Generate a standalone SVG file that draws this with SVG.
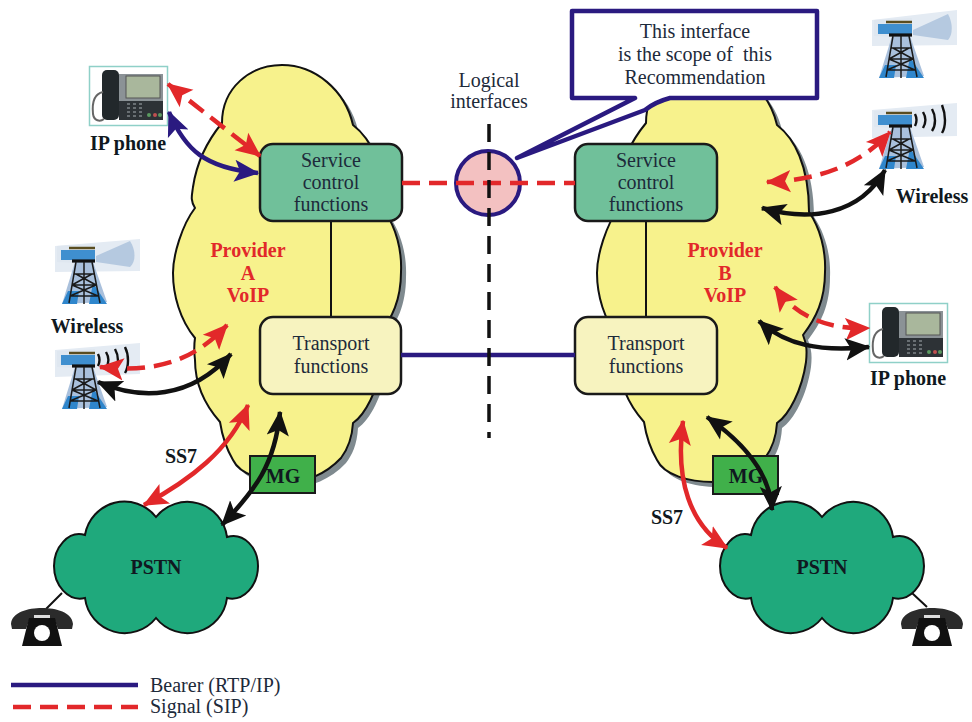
<svg xmlns="http://www.w3.org/2000/svg" width="972" height="722" viewBox="0 0 972 722">
<style>
text{font-family:"Liberation Serif","Times New Roman",serif;font-size:20px;fill:#1d2a3a;text-anchor:middle}
.b{font-weight:bold;fill:#101820}
.r{font-weight:bold;fill:#e2282a}
.l{text-anchor:start}
.cloud{fill:#f7f28c;stroke:#111;stroke-width:2}
.shadow{fill:#7f8a8f}
.pstn{fill:#1fa97c;stroke:#111;stroke-width:2}
.svc{fill:#70c09a;stroke:#1a1a1a;stroke-width:2.5}
.trn{fill:#f7f3bf;stroke:#1a1a1a;stroke-width:2.5}
.mg{fill:#40b04a;stroke:#1a1a1a;stroke-width:2}
.c{fill:none}
.red{stroke:#e2282a;stroke-width:4.5}
.dash{stroke-dasharray:18 9}
.nav{stroke:#2a1a80;stroke-width:4.5}
.blk{stroke:#111;stroke-width:4.5}
.link{stroke:#111;stroke-width:2;fill:none}
.wave{fill:none;stroke:#111;stroke-width:2.4}
.beam{fill:#b5c9e0}
.pale{fill:#e4ebf3}
</style>
<defs>
<marker id="hr" markerUnits="userSpaceOnUse" markerWidth="25" markerHeight="25" refX="17" refY="9" orient="auto-start-reverse" viewBox="0 0 18 18"><path d="M0,1L18,9L0,17L4,9Z" fill="#e2282a"/></marker>
<marker id="hk" markerUnits="userSpaceOnUse" markerWidth="25" markerHeight="25" refX="17" refY="9" orient="auto-start-reverse" viewBox="0 0 18 18"><path d="M0,1L18,9L0,17L4,9Z" fill="#111"/></marker>
<marker id="hn" markerUnits="userSpaceOnUse" markerWidth="25" markerHeight="25" refX="17" refY="9" orient="auto-start-reverse" viewBox="0 0 18 18"><path d="M0,1L18,9L0,17L4,9Z" fill="#2a1a80"/></marker>
<path id="cl" d="M222,123C222,88 250,65 282,65C315,65 345,90 353,125C370,138 385,165 385,212C396,228 402,250 401,272C401,300 392,318 379,335C383,345 383,352 382,362C378,390 365,415 353,423C352,440 347,450 341,458C325,475 305,482 289,482C265,482 240,475 233,460C226,448 222,435 220,422C205,405 195,385 195,360C194,352 194,345 195,338C180,320 173,295 173,273C173,255 182,225 195,208C190,200 192,195 193,187C197,160 208,140 222,123Z"/>
<path id="ps" class="pstn" d="M156,517A40,40 0 0 0 85,535C68,530 54,548 54,566C54,585 68,602 85,598A40,40 0 0 0 156,618A40,40 0 0 0 227,598C244,602 258,585 258,566C258,548 244,532 227,537A40,40 0 0 0 156,517Z"/>
<g id="tw">
<path d="M2,8L40,6L40,26L2,24Z" fill="#dfe7f0"/>
<path d="M20,24L7,66L52,64L38,24Z" fill="#a9c0dc"/>
<path d="M6,12H40V22H6Z" fill="#3f8fcf"/>
<path d="M13,53L7,66H22L24,53ZM38,45L34,66H52L48,60Z" fill="#2f86cc"/>
<path d="M14,10H40" stroke="#5a4d20" stroke-width="2.5" fill="none"/>
<path d="M17,23H40" stroke="#111" stroke-width="3.2" fill="none"/>
<path d="M21,24L14,65M37,24L45,65M29,24V66M19,36H39M17,47H41M15,58H43M21,36L41,47M37,36L17,47M17,47L43,58M41,47L15,58" stroke="#1a1a1a" stroke-width="1.5" fill="none"/>
</g>
<g id="ph">
<rect x="0.5" y="0.5" width="78" height="59" fill="#fff" stroke="#8fd0c8" stroke-width="1.5"/>
<path d="M30,8H74V52H30Z" fill="#8b9296"/>
<rect x="37" y="10" width="34" height="22" fill="#a9b79c" stroke="#555"/>
<path d="M30,35H74V54H30Z" fill="#2d3236"/>
<path d="M38,38h3m3,0h3m3,0h3M38,42h3m3,0h3m3,0h3M38,46h3m3,0h3m3,0h3M38,50h3m3,0h3m3,0h3" stroke="#7d8488" stroke-width="1.6" fill="none"/>
<rect x="13" y="4" width="17" height="50" rx="5" fill="#22282b"/>
<path d="M14,26C4,28 3,38 4,48C5,55 11,56 15,53" fill="none" stroke="#666" stroke-width="2"/>
<circle cx="60" cy="49" r="2" fill="#5a9a60"/><circle cx="66" cy="49" r="2" fill="#c05050"/><circle cx="71" cy="49" r="2" fill="#5a9a60"/>
</g>
<g id="te">
<path d="M1,16C2,4 18,0 32,0C46,0 62,4 63,16L62,21H48L44,10H20L16,21H2Z" fill="#2b2b2b"/>
<path d="M19,10H45L52,38H12Z" fill="#111"/>
<rect x="24" y="7" width="16" height="3" fill="#ddd"/>
<circle cx="32" cy="25" r="8" fill="#fff"/>
</g>
</defs>

<g id="tower-a1"><path class="pale" d="M55,246L140,239V271L55,272Z"/><use href="#tw" x="55" y="238"/><path class="beam" d="M96,256L130,241C136,250 136,262 130,267L96,262Z"/></g>
<g id="tower-a2"><path class="pale" d="M55,350L140,343V374L55,377Z"/><use href="#tw" x="55" y="343"/><path class="wave" d="M98,354C100,358 100,362 98,366M106,352C109,357 109,363 106,368M115,349C119,356 119,365 115,371M125,347C129,355 129,366 125,373"/></g>
<g id="tower-b1"><path class="pale" d="M872,20L957,10V45L872,46Z"/><use href="#tw" x="872" y="12"/><path class="beam" d="M913,30L948,14C953,23 953,35 948,40L913,35Z"/></g>
<g id="tower-b2"><path class="pale" d="M872,110L957,103V136L872,138Z"/><use href="#tw" x="872" y="103"/><path class="wave" d="M915,114C917,118 917,122 915,126M923,112C926,117 926,123 923,128M932,109C936,116 936,125 932,131M942,105C946,115 946,126 942,133"/></g>

<g id="cloud-a"><use href="#cl" class="shadow" x="5" y="5"/><use href="#cl" class="cloud"/></g>
<g id="cloud-b"><use href="#cl" class="shadow" x="429" y="5"/><use href="#cl" class="cloud" x="424"/></g>

<g id="links">
<path class="link" d="M331,221V317M646,221V317M62,593L46,609M912,593L927,607"/>
</g>

<g id="phone-a"><use href="#ph" x="89" y="66"/><text class="b" x="128" y="150">IP phone</text></g>
<g id="phone-b"><use href="#ph" x="869" y="303"/><text class="b" x="908" y="385">IP phone</text></g>
<g id="wireless-a"><text class="b" x="87" y="333">Wireless</text></g>
<g id="wireless-b"><text class="b" x="932" y="203">Wireless</text></g>

<g id="pstn-a"><use href="#ps"/><text class="b" x="156" y="574">PSTN</text></g>
<g id="pstn-b"><use href="#ps" x="666"/><text class="b" x="822" y="574">PSTN</text></g>
<g id="set-a"><use href="#te" x="10" y="608"/></g>
<g id="set-b"><use href="#te" x="900" y="608"/></g>

<g id="service-a"><rect class="svc" x="260" y="144" width="142" height="77" rx="13"/><text x="331" y="167">Service</text><text x="331" y="189">control</text><text x="331" y="211">functions</text></g>
<g id="service-b"><rect class="svc" x="575" y="144" width="142" height="77" rx="13"/><text x="646" y="167">Service</text><text x="646" y="189">control</text><text x="646" y="211">functions</text></g>
<g id="transport-a"><rect class="trn" x="260" y="317" width="141" height="77" rx="13"/><text x="331" y="350">Transport</text><text x="331" y="373">functions</text></g>
<g id="transport-b"><rect class="trn" x="575" y="317" width="142" height="77" rx="13"/><text x="646" y="350">Transport</text><text x="646" y="373">functions</text></g>
<g id="provider-a"><text class="r" x="248" y="257">Provider</text><text class="r" x="248" y="280">A</text><text class="r" x="248" y="302">VoIP</text></g>
<g id="provider-b"><text class="r" x="725" y="257">Provider</text><text class="r" x="725" y="280">B</text><text class="r" x="725" y="302">VoIP</text></g>
<g id="mg-a"><rect class="mg" x="250" y="456" width="65" height="37"/><text class="b" x="283" y="483">MG</text></g>
<g id="mg-b"><rect class="mg" x="713" y="456" width="65" height="38"/><text class="b" x="746" y="483">MG</text></g>

<g id="interface"><circle cx="488" cy="183" r="32" fill="#f3c1c1" stroke="#2a1a80" stroke-width="4"/></g>

<g id="connectors" fill="none">
<path class="c nav" d="M401,355H575"/>
<path class="c red dash" d="M402,183H575"/>
<path d="M489,124V438" fill="none" stroke="#111" stroke-width="3.5" stroke-dasharray="18 10"/>
<path class="c red dash" d="M168,84L260,156" marker-start="url(#hr)" marker-end="url(#hr)"/>
<path class="c nav" d="M169,112C185,150 205,168 258,173" marker-start="url(#hn)" marker-end="url(#hn)"/>
<path class="c red dash" d="M100,367C150,372 190,365 227,325" marker-start="url(#hr)" marker-end="url(#hr)"/>
<path class="c blk" d="M98,382C140,400 190,400 231,354" marker-start="url(#hk)" marker-end="url(#hk)"/>
<path class="c red" d="M144,505C190,480 230,450 248,405" marker-start="url(#hr)" marker-end="url(#hr)"/>
<path class="c blk" d="M222,525C255,490 275,465 280,412" marker-start="url(#hk)" marker-end="url(#hk)"/>
<path class="c red dash" d="M767,182C820,180 860,165 890,132" marker-start="url(#hr)" marker-end="url(#hr)"/>
<path class="c blk" d="M762,208C810,222 860,215 885,170" marker-start="url(#hk)" marker-end="url(#hk)"/>
<path class="c red dash" d="M775,287C795,315 825,330 869,328" marker-start="url(#hr)" marker-end="url(#hr)"/>
<path class="c blk" d="M759,321C785,345 820,352 869,347" marker-start="url(#hk)" marker-end="url(#hk)"/>
<path class="c red" d="M683,421C675,480 690,525 727,548" marker-start="url(#hr)" marker-end="url(#hr)"/>
<path class="c blk" d="M707,417C740,440 770,470 772,510" marker-start="url(#hk)" marker-end="url(#hk)"/>
</g>

<g id="callout">
<path d="M572,11H817V98H670Q655,102 645,110L517,158L635,98H572Z" fill="#fff" stroke="#2a1a80" stroke-width="4.5" stroke-linejoin="round"/>
<text x="695" y="38">This interface</text>
<text x="695" y="61" style="white-space:pre">is the scope of  this</text>
<text x="695" y="84">Recommendation</text>
</g>
<g id="logical"><text x="489" y="87">Logical</text><text x="489" y="108">interfaces</text></g>
<g id="ss7-a"><text class="b" x="181" y="463">SS7</text></g>
<g id="ss7-b"><text class="b" x="667" y="524">SS7</text></g>

<g id="legend">
<path class="c nav" d="M11,685H138"/>
<path class="c red" d="M13,707H138" stroke-dasharray="18 9"/>
<text class="l" x="150" y="692">Bearer (RTP/IP)</text>
<text class="l" x="150" y="713">Signal (SIP)</text>
</g>
</svg>
